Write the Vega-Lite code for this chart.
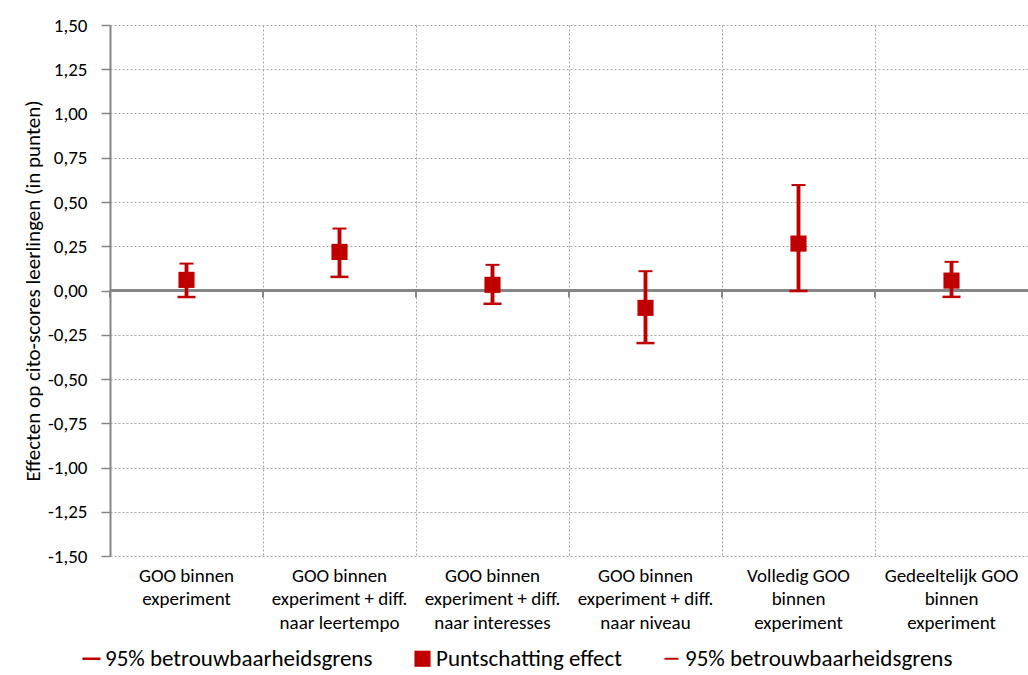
{
  "$schema": "https://vega.github.io/schema/vega-lite/v6.json",
  "width": 918,
  "height": 531,
  "autosize": {"type": "none"},
  "padding": {"left": 110, "top": 25, "right": 0, "bottom": 119},
  "config": {
    "font": "Carlito, Liberation Sans Narrow, Lato, sans-serif",
    "view": {"stroke": null}
  },
  "data": {
    "values": [
      {"cat": "GOO binnen|experiment", "lower": -0.037, "est": 0.060, "upper": 0.152},
      {"cat": "GOO binnen|experiment + diff.|naar leertempo", "lower": 0.077, "est": 0.218, "upper": 0.350},
      {"cat": "GOO binnen|experiment + diff.|naar interesses", "lower": -0.075, "est": 0.032, "upper": 0.145},
      {"cat": "GOO binnen|experiment + diff.|naar niveau", "lower": -0.297, "est": -0.098, "upper": 0.109},
      {"cat": "Volledig GOO|binnen|experiment", "lower": -0.003, "est": 0.265, "upper": 0.596},
      {"cat": "Gedeeltelijk GOO|binnen|experiment", "lower": -0.036, "est": 0.056, "upper": 0.162}
    ]
  },
  "layer": [
    {
      "mark": {"type": "rule", "color": "#c00000", "strokeWidth": 3.5},
      "encoding": {
        "x": {
          "field": "cat", "type": "nominal", "sort": null,
          "scale": {"paddingInner": 0, "paddingOuter": 0},
          "axis": {
            "title": null, "orient": "bottom", "domain": false, "ticks": false,
            "grid": true, "bandPosition": 0, "gridColor": "#a6a6a6", "gridDash": [2, 2], "gridWidth": 1,
            "labelAngle": 0, "labelExpr": "split(datum.label, '|')",
            "labelFontSize": 19, "labelColor": "#000000", "labelPadding": 10,
            "labelBaseline": "top", "labelLineHeight": 23.5, "labelLimit": 200
          }
        },
        "y": {
          "field": "lower", "type": "quantitative",
          "scale": {"domain": [-1.5, 1.5], "nice": false},
          "axis": {
            "title": "Effecten op cito-scores leerlingen (in punten)",
            "titleFontSize": 21, "titleFontWeight": "normal", "titleColor": "#000000", "titlePadding": 4,
            "values": [-1.5, -1.25, -1, -0.75, -0.5, -0.25, 0, 0.25, 0.5, 0.75, 1, 1.25, 1.5],
            "labelExpr": "(datum.value < 0 ? '-' : '') + replace(format(abs(datum.value), '.2f'), '.', ',')",
            "labelFontSize": 19, "labelColor": "#000000", "labelPadding": 14,
            "domainColor": "#868686", "domainWidth": 2,
            "tickColor": "#868686", "tickSize": 9, "tickWidth": 1.5,
            "grid": true, "gridColor": "#a6a6a6", "gridDash": [2, 2], "gridWidth": 1
          }
        },
        "y2": {"field": "upper"}
      }
    },
    {
      "mark": {"type": "rule", "color": "#868686", "strokeWidth": 2.5},
      "encoding": {
        "y": {"datum": 0, "type": "quantitative"}
      }
    },
    {
      "mark": {"type": "tick", "orient": "vertical", "color": "#868686", "size": 7, "thickness": 2, "yOffset": 3.5, "opacity": 1},
      "encoding": {
        "x": {"field": "cat", "type": "nominal", "sort": null, "bandPosition": 0},
        "y": {"datum": 0, "type": "quantitative"}
      }
    },
    {
      "mark": {"type": "rule", "color": "#c00000", "strokeWidth": 3.5},
      "encoding": {
        "x": {"field": "cat", "type": "nominal", "sort": null},
        "y": {"field": "lower", "type": "quantitative"},
        "y2": {"field": "upper"}
      }
    },
    {
      "transform": [{"fold": ["lower", "est", "upper"], "as": ["series", "v"]}],
      "mark": {"type": "point", "filled": true, "opacity": 1},
      "encoding": {
        "x": {"field": "cat", "type": "nominal", "sort": null},
        "y": {"field": "v", "type": "quantitative"},
        "color": {
          "field": "series", "type": "nominal",
          "scale": {"domain": ["lower", "est", "upper"], "range": ["#c00000", "#c00000", "#c00000"]},
          "legend": {
            "orient": "none", "legendX": -30, "legendY": 622, "direction": "horizontal",
            "title": null, "labelFontSize": 23, "labelColor": "#000000", "columnPadding": 38,
            "symbolSize": 210, "symbolStrokeWidth": 0, "labelLimit": 400, "labelOffset": 2,
            "labelExpr": "datum.label == 'est' ? 'Puntschatting effect' : '95% betrouwbaarheidsgrens'"
          }
        },
        "shape": {
          "field": "series", "type": "nominal",
          "scale": {"domain": ["lower", "est", "upper"], "range": ["M-1,-0.14H1V0.14H-1Z", "square", "M-1,-0.14H1V0.14H-1Z"]}
        },
        "size": {
          "field": "series", "type": "nominal",
          "scale": {"domain": ["lower", "est", "upper"], "range": [324, 196, 324]},
          "legend": null
        }
      }
    }
  ]
}
